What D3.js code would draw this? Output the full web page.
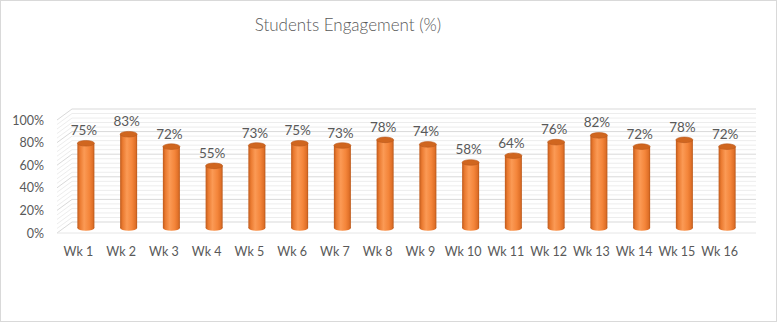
<!DOCTYPE html>
<html><head><meta charset="utf-8">
<script src="https://cdn.jsdelivr.net/npm/d3@7"></script>
<style>body{margin:0;background:#fff}svg{display:block}</style>
</head><body>
<svg id="c" width="778" height="323"></svg>
<script>
const categories = ["Wk 1","Wk 2","Wk 3","Wk 4","Wk 5","Wk 6","Wk 7","Wk 8","Wk 9","Wk 10","Wk 11","Wk 12","Wk 13","Wk 14","Wk 15","Wk 16"];
const engagement = [75,83,72,55,73,75,73,78,74,58,64,76,82,72,78,72];
const yTicks = [0,20,40,60,80,100];
const title = "Students Engagement (%)";

const svg = d3.select("#c");
const font = "Lato, 'Open Sans', sans-serif";
const grey = "#595959";

// outer border
svg.append("rect").attr("x",0.5).attr("y",0.5).attr("width",776).attr("height",321)
  .attr("fill","#fff").attr("stroke","#d9d9d9");

// scales (mid-depth plane), back/front planes offset
const x = d3.scaleBand().domain(categories).range([64.5,748.5]).paddingInner(0).paddingOuter(0);
const y = d3.scaleLinear().domain([0,100]).range([228,115]);
const back = {dx:7.5, dy:-6}, front = {dx:-7.5, dy:5};
const x0 = x.range()[0], x1 = x.range()[1];

// gridlines: minor and major on back wall and left side wall
const minor = d3.range(0,101,4).filter(v=>v%20!==0);
const g = svg.append("g");
function gridLine(v, col){
  const yb = y(v)+back.dy, yf = y(v)+front.dy;
  g.append("line").attr("x1",x0+back.dx).attr("x2",x1+back.dx).attr("y1",yb).attr("y2",yb)
    .attr("stroke",col).attr("stroke-width",1);
  g.append("line").attr("x1",x0+front.dx).attr("x2",x0+back.dx).attr("y1",yf).attr("y2",yb)
    .attr("stroke",col).attr("stroke-width",1);
}
minor.forEach(v=>gridLine(v,"#ededed"));
yTicks.forEach(v=>gridLine(v,"#d9d9d9"));
// floor front edge
g.append("line").attr("x1",x0+front.dx).attr("x2",x1+back.dx)
  .attr("y1",y(0)+front.dy).attr("y2",y(0)+front.dy).attr("stroke","#e6e6e6");

// gradient for cylinders
const defs = svg.append("defs");
const lg = defs.append("linearGradient").attr("id","cyl").attr("x1","0").attr("x2","1").attr("y1","0").attr("y2","0");
[[0,"#bf5a1c"],[0.15,"#ea7a30"],[0.4,"#fb9a55"],[0.7,"#f4853a"],[0.9,"#e07028"],[1,"#b8581b"]]
  .forEach(([o,c])=>lg.append("stop").attr("offset",o).attr("stop-color",c));

const bw = 17, ry = 2.8;
const bars = svg.append("g").selectAll("g").data(categories).join("g");
bars.each(function(c,i){
  const gg = d3.select(this);
  const cx = x(c)+x.bandwidth()/2;
  const yt = y(engagement[i]), yb = y(0);
  gg.append("ellipse").attr("cx",cx).attr("cy",yb).attr("rx",bw/2).attr("ry",ry).attr("fill","url(#cyl)");
  gg.append("rect").attr("x",cx-bw/2).attr("y",yt).attr("width",bw).attr("height",yb-yt).attr("fill","url(#cyl)");
  gg.append("ellipse").attr("cx",cx).attr("cy",yt).attr("rx",bw/2).attr("ry",ry)
    .attr("fill","#d0661f").attr("stroke","#b8581b").attr("stroke-width",0.6);
  gg.append("text").attr("x",cx-2).attr("y",yt-8).attr("text-anchor","middle")
    .attr("font-family",font).attr("font-size",13.5).attr("fill",grey)
    .text(engagement[i]+"%");
});

// x labels (front plane)
svg.append("g").selectAll("text").data(categories).join("text")
  .attr("x",d=>x(d)+x.bandwidth()/2+front.dx).attr("y",255.5)
  .attr("text-anchor","middle").attr("font-family",font).attr("font-size",12.5).attr("fill",grey)
  .text(d=>d);

// y labels (front plane)
svg.append("g").selectAll("text").data(yTicks).join("text")
  .attr("x",44).attr("y",d=>y(d)+front.dy+4.5)
  .attr("text-anchor","end").attr("font-family",font).attr("font-size",12.5).attr("fill",grey)
  .text(d=>d+"%");

// title
svg.append("text").attr("x",348).attr("y",31).attr("text-anchor","middle")
  .attr("font-family",font).attr("font-weight",300).attr("font-size",17).attr("fill",grey)
  .text(title);
</script>
</body></html>
